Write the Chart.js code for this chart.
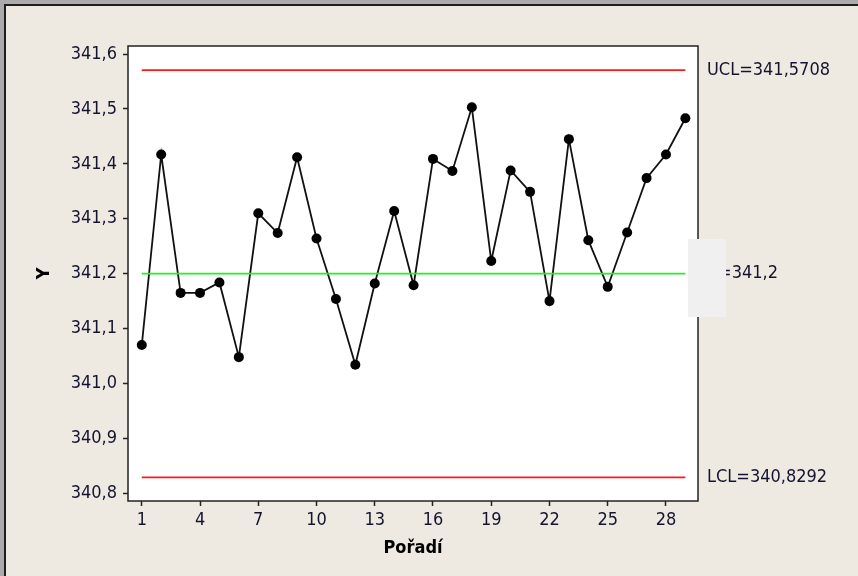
<!DOCTYPE html>
<html>
<head>
<meta charset="utf-8">
<script src="https://cdn.jsdelivr.net/npm/chart.js@4.4.1/dist/chart.umd.min.js"></script>
<style>
    html, body { margin: 0; padding: 0; background: #ededed; overflow: hidden; }
    #wrap { position: relative; width: 858px; height: 576px; }
</style>
</head>
<body>
<div id="wrap"><canvas id="chart"></canvas></div>
<script>
// Individual values (Minitab I-chart)
const order = [1, 2, 3, 4, 5, 6, 7, 8, 9, 10, 11, 12, 13, 14, 15, 16, 17, 18, 19, 20, 21, 22, 23, 24, 25, 26, 27, 28, 29];
const values = [341.070, 341.417, 341.165, 341.165, 341.184, 341.048, 341.310, 341.274, 341.412, 341.264,
                341.154, 341.034, 341.182, 341.314, 341.179, 341.409, 341.387, 341.503, 341.223, 341.388,
                341.349, 341.150, 341.445, 341.261, 341.176, 341.275, 341.374, 341.417, 341.483];

const ucl = 341.5708;
const centerLine = 341.2;
const lcl = 340.8292;
const limitLabels = ['UCL=341,5708', 'X\u0304=341,2', 'LCL=340,8292'];

const xTicks = [1, 4, 7, 10, 13, 16, 19, 22, 25, 28];
const yTicks = [340.8, 340.9, 341.0, 341.1, 341.2, 341.3, 341.4, 341.5, 341.6];

const FONT = "'DejaVu Sans Condensed', 'Liberation Sans', sans-serif";
const TEXT = '#141430';

const first = order[0];
const last = order[order.length - 1];
const flat = (v) => [{ x: first, y: v }, { x: last, y: v }];

// window frame, white plot area, limit labels and the grey box
const framePlugin = {
    id: 'frame',
    beforeDraw(chart) {
        const { ctx, width, height, chartArea } = chart;
        ctx.save();
        ctx.fillStyle = '#eeeae1';
        ctx.fillRect(0, 0, width, height);
        ctx.fillStyle = '#ababab';
        ctx.fillRect(0, 0, width, 4);
        ctx.fillRect(0, 0, 4, height);
        ctx.fillStyle = '#1e1e1e';
        ctx.fillRect(4, 4, width - 4, 2);
        ctx.fillRect(4, 4, 2, height - 4);
        ctx.fillStyle = '#ffffff';
        ctx.fillRect(chartArea.left, chartArea.top, chartArea.right - chartArea.left, chartArea.bottom - chartArea.top);
        ctx.restore();
    },
    afterDraw(chart) {
        const { ctx, chartArea } = chart;
        const y = chart.scales.y;
        ctx.save();
        ctx.strokeStyle = '#222222';
        ctx.lineWidth = 1.5;
        ctx.strokeRect(chartArea.left, chartArea.top, chartArea.right - chartArea.left, chartArea.bottom - chartArea.top);

        ctx.fillStyle = TEXT;
        ctx.font = '18px ' + FONT;
        ctx.textAlign = 'left';
        ctx.textBaseline = 'middle';
        [ucl, centerLine, lcl].forEach((v, i) => {
            ctx.fillText(limitLabels[i], chartArea.right + 9, y.getPixelForValue(v));
        });

        // the light grey box that hides part of the centre label
        ctx.fillStyle = '#f0f0f0';
        ctx.fillRect(688, 239, 38, 78);
        ctx.restore();
    }
};

new Chart(document.getElementById('chart'), {
    type: 'line',
    data: {
        datasets: [
            {
                label: 'UCL',
                data: flat(ucl),
                borderColor: '#ff1a1a',
                borderWidth: 1.8,
                pointRadius: 0
            },
            {
                label: 'LCL',
                data: flat(lcl),
                borderColor: '#ff1a1a',
                borderWidth: 1.8,
                pointRadius: 0
            },
            {
                label: 'Center',
                data: flat(centerLine),
                borderColor: '#22f022',
                borderWidth: 1.8,
                pointRadius: 0
            },
            {
                label: 'Y',
                data: order.map((o, i) => ({ x: o, y: values[i] })),
                borderColor: '#111111',
                borderWidth: 1.8,
                pointRadius: 5,
                pointBackgroundColor: '#000000',
                pointBorderColor: '#000000',
                pointBorderWidth: 0
            }
        ]
    },
    options: {
        responsive: true,
        maintainAspectRatio: false,
        animation: false,
        layout: { padding: { left: 8, top: 46, right: 160, bottom: 15 } },
        plugins: {
            legend: { display: false },
            tooltip: { enabled: false }
        },
        scales: {
            x: {
                type: 'linear',
                min: 0.29,
                max: 29.65,
                afterFit: (s) => { s.height = 60; },
                afterBuildTicks: (s) => { s.ticks = xTicks.map(v => ({ value: v })); },
                border: { display: false },
                grid: { drawOnChartArea: false, drawTicks: true, tickLength: 5, tickColor: '#222222', tickWidth: 1.5 },
                ticks: {
                    padding: 4,
                    color: TEXT,
                    font: { family: FONT, size: 18 },
                    maxRotation: 0,
                    autoSkip: false,
                    callback: (v) => String(v)
                },
                title: {
                    display: true,
                    text: 'Pořadí',
                    color: '#000000',
                    padding: { top: 0, bottom: 2 },
                    font: { family: FONT, size: 18, weight: 'bold' }
                }
            },
            y: {
                min: 340.786,
                max: 341.6146,
                afterFit: (s) => { s.width = 120; },
                afterBuildTicks: (s) => { s.ticks = yTicks.map(v => ({ value: v })); },
                border: { display: false },
                grid: { drawOnChartArea: false, drawTicks: true, tickLength: 5, tickColor: '#222222', tickWidth: 1.5 },
                ticks: {
                    padding: 6,
                    color: TEXT,
                    font: { family: FONT, size: 18 },
                    autoSkip: false,
                    callback: (v) => v.toFixed(1).replace('.', ',')
                },
                title: {
                    display: true,
                    text: 'Y',
                    color: '#000000',
                    padding: { top: 26, bottom: 0 },
                    font: { family: FONT, size: 18, weight: 'bold' }
                }
            }
        }
    },
    plugins: [framePlugin]
});
</script>
</body>
</html>
